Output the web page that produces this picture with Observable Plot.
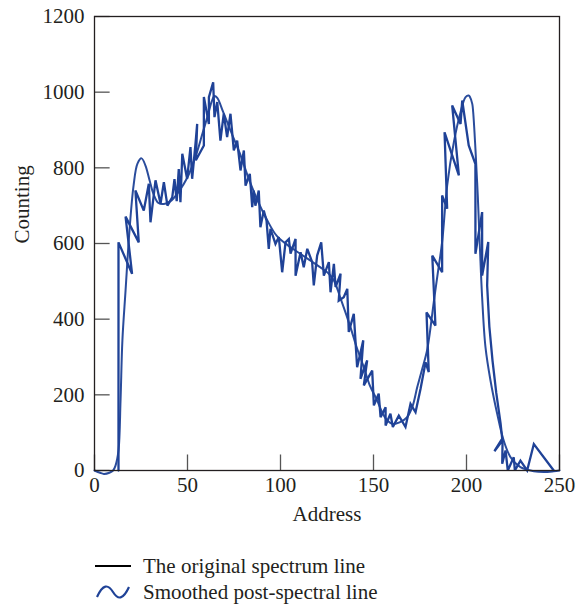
<!DOCTYPE html>
<html>
<head>
<meta charset="utf-8">
<script src="https://cdn.jsdelivr.net/npm/d3@7"></script>
<script src="https://cdn.jsdelivr.net/npm/@observablehq/plot@0.6"></script>
<style>
  html, body { margin: 0; padding: 0; background: #fff; }
  body { width: 576px; font-family: "Liberation Serif", "DejaVu Serif", serif; color: #231f20; }
  #chart svg { display: block; }
  .legend { padding: 13px 0 0 95px; font-size: 21px; }
  .legend .row { display: flex; align-items: center; height: 26px; }
  .legend svg { display: block; margin-right: 12px; }
</style>
</head>
<body>
<div id="chart"></div>
<div class="legend">
  <div class="row">
    <svg width="36" height="14"><line x1="0" y1="7" x2="36" y2="7" stroke="#000" stroke-width="2"></line></svg>
    <span>The original spectrum line</span>
  </div>
  <div class="row">
    <svg width="36" height="20"><path d="M2,15 C8,2 13,2 18,10 C23,18 28,18 34,5" fill="none" stroke="#1f4297" stroke-width="2.2"></path></svg>
    <span>Smoothed post-spectral line</span>
  </div>
</div>
<script>
// Axis ticks
const xTicks = [0, 50, 100, 150, 200, 250];
const yTicks = [0, 200, 400, 600, 800, 1000, 1200];

// Original (raw) spectrum, in drawing order: address, counting
const origAddress = [
  12.9, 12.9, 20.2, 16.7, 23.8, 22, 26.5, 29.2, 30.1, 32.8, 35.5, 37.3, 39.2, 41.8, 43, 44.2, 45.3, 46.2, 47.2, 49.8,
  51.6, 52.5, 54.3, 55.2, 54.5, 58.8, 58.8, 61.5, 61.5, 63.8, 64.5, 66, 67.7, 69.5, 71.3, 73.1, 74.9, 76.7, 78.5, 80.3,
  81.2, 83.5, 84.8, 85.6, 86.5, 88.3, 89.2, 91, 92.5, 93.7, 94.6, 97.3, 99.1, 100.9, 102.7, 104.5, 105.4, 108.1, 108.1, 110.8,
  112.5, 114.4, 117, 117.9, 119.7, 121.9, 123.3, 126, 126.9, 128.7, 129.6, 132.3, 131.3, 134, 135.9, 136.7, 139.4, 141.2, 144.5, 143,
  146.6, 144.8, 149.3, 150.2, 152.8, 153.8, 156.5, 156.5, 159.1, 160.4, 163.6, 167.2, 169.9, 172.6, 175.3, 178, 179.7, 178.5, 183.3, 181.6,
  186.9, 186.9, 189.6, 188.2, 195.9, 192.3, 196.8, 197.7, 201.2, 204.8, 204.8, 208.4, 208.4, 211.7, 211.1, 212.3, 214, 216, 218.3, 219.2,
  215, 219.4, 219.2, 221, 222.2, 225.4, 226, 229, 232.6, 236.2, 246.9
];
const origCount = [
  0, 603, 520, 671, 603, 740, 687, 758, 656, 767, 705, 762, 700, 722, 770, 712, 797, 709, 837, 771,
  855, 771, 864, 916, 820, 859, 987, 916, 987, 1026, 934, 974, 872, 943, 881, 943, 846, 872, 793, 846,
  753, 784, 696, 740, 700, 740, 643, 687, 660, 586, 639, 599, 617, 524, 603, 612, 573, 612, 515, 577,
  537, 586, 551, 489, 568, 603, 515, 551, 471, 546, 485, 520, 449, 458, 480, 366, 414, 273, 344, 242,
  291, 225, 264, 172, 203, 141, 167, 119, 150, 115, 145, 115, 176, 154, 216, 286, 260, 418, 383, 568,
  524, 727, 692, 894, 780, 965, 916, 978, 859, 810, 573, 683, 515, 604, 489, 380, 290, 205, 125, 84,
  51, 80, 18, 53, 0, 35, 0, 26, 0, 70, 0
];

// Smoothed spectrum: address, counting
const smoothAddress = [
  0, 3, 5, 8, 10, 11.3, 12.9, 14, 15, 16.7, 18.8, 21, 23.1, 25.3, 27.4, 29.6, 31.7, 34.4, 37.9, 41.4,
  45, 50, 55, 58, 61, 63, 64.5, 66, 69, 73, 78, 83, 88, 93, 98, 104, 110, 116, 122, 126,
  128.7, 133, 137.6, 141, 144.8, 148, 152, 155, 157.4, 160.4, 164, 168.1, 171, 173.5, 176, 178.9, 182.4, 184.5, 186.9, 189.6,
  193.2, 196.8, 199.5, 201.2, 201.8, 203.1, 203.6, 204.8, 206.1, 207.2, 208.4, 210.2, 212.9, 216.5, 220, 223.7, 229, 236.2, 241.6, 246.9,
  250
];
const smoothCount = [
  0, -6, -9, -6, 0, 13, 53, 185, 344, 476, 634, 753, 811, 825, 806, 767, 731, 707, 705, 714,
  735, 775, 840, 890, 940, 975, 990, 985, 950, 900, 840, 770, 710, 660, 620, 595, 575, 555, 535, 520,
  502, 445, 379, 325, 273, 225, 185, 150, 132, 123, 127, 141, 170, 220, 265, 320, 445, 520, 604, 753,
  868, 947, 987, 991, 988, 969, 947, 850, 722, 590, 458, 326, 238, 150, 79, 35, 9, -2, -4, -2,
  0
];

const original = origAddress.map((a, i) => ({address: a, count: origCount[i]}));
const smoothed = smoothAddress.map((a, i) => ({address: a, count: smoothCount[i]}));

const lineColor = "#1f4297";
// inward tick lengths, in data units
const tickLenX = 8.4;   // along address
const tickLenY = 41;    // along counting

const chart = Plot.plot({
  width: 576,
  height: 540,
  marginLeft: 94,
  marginRight: 17,
  marginTop: 16,
  marginBottom: 70,
  style: {fontFamily: '"Liberation Serif", "DejaVu Serif", serif', fontSize: "21px", color: "#231f20", background: "#fff", overflow: "visible"},
  x: {domain: [0, 250]},
  y: {domain: [0, 1200]},
  marks: [
    Plot.ruleY(yTicks, {y: d => d, x1: 0, x2: tickLenX, stroke: "#555", strokeWidth: 1.3}),
    Plot.ruleX(xTicks, {x: d => d, y1: 0, y2: tickLenY, stroke: "#555", strokeWidth: 1.3}),
    Plot.line(smoothed, {x: "address", y: "count", curve: "catmull-rom", stroke: lineColor, strokeWidth: 2, strokeOpacity: 0.95}),
    Plot.line(original, {x: "address", y: "count", stroke: lineColor, strokeWidth: 2.3, strokeLinejoin: "miter", strokeMiterlimit: 3}),
    Plot.frame({stroke: "#231f20", strokeWidth: 1.3}),
    Plot.axisY({ticks: yTicks, tickSize: 0, tickPadding: 10, tickFormat: d => String(d), label: null}),
    Plot.axisX({ticks: xTicks, tickSize: 0, tickPadding: 7, tickFormat: d => String(d), label: null}),
    Plot.text(["Counting"], {frameAnchor: "left", rotate: -90, dx: -72, fontSize: 21}),
    Plot.text(["Address"], {frameAnchor: "bottom", dy: 50, fontSize: 21})
  ]
});
document.getElementById("chart").appendChild(chart);
</script>
</body>
</html>
